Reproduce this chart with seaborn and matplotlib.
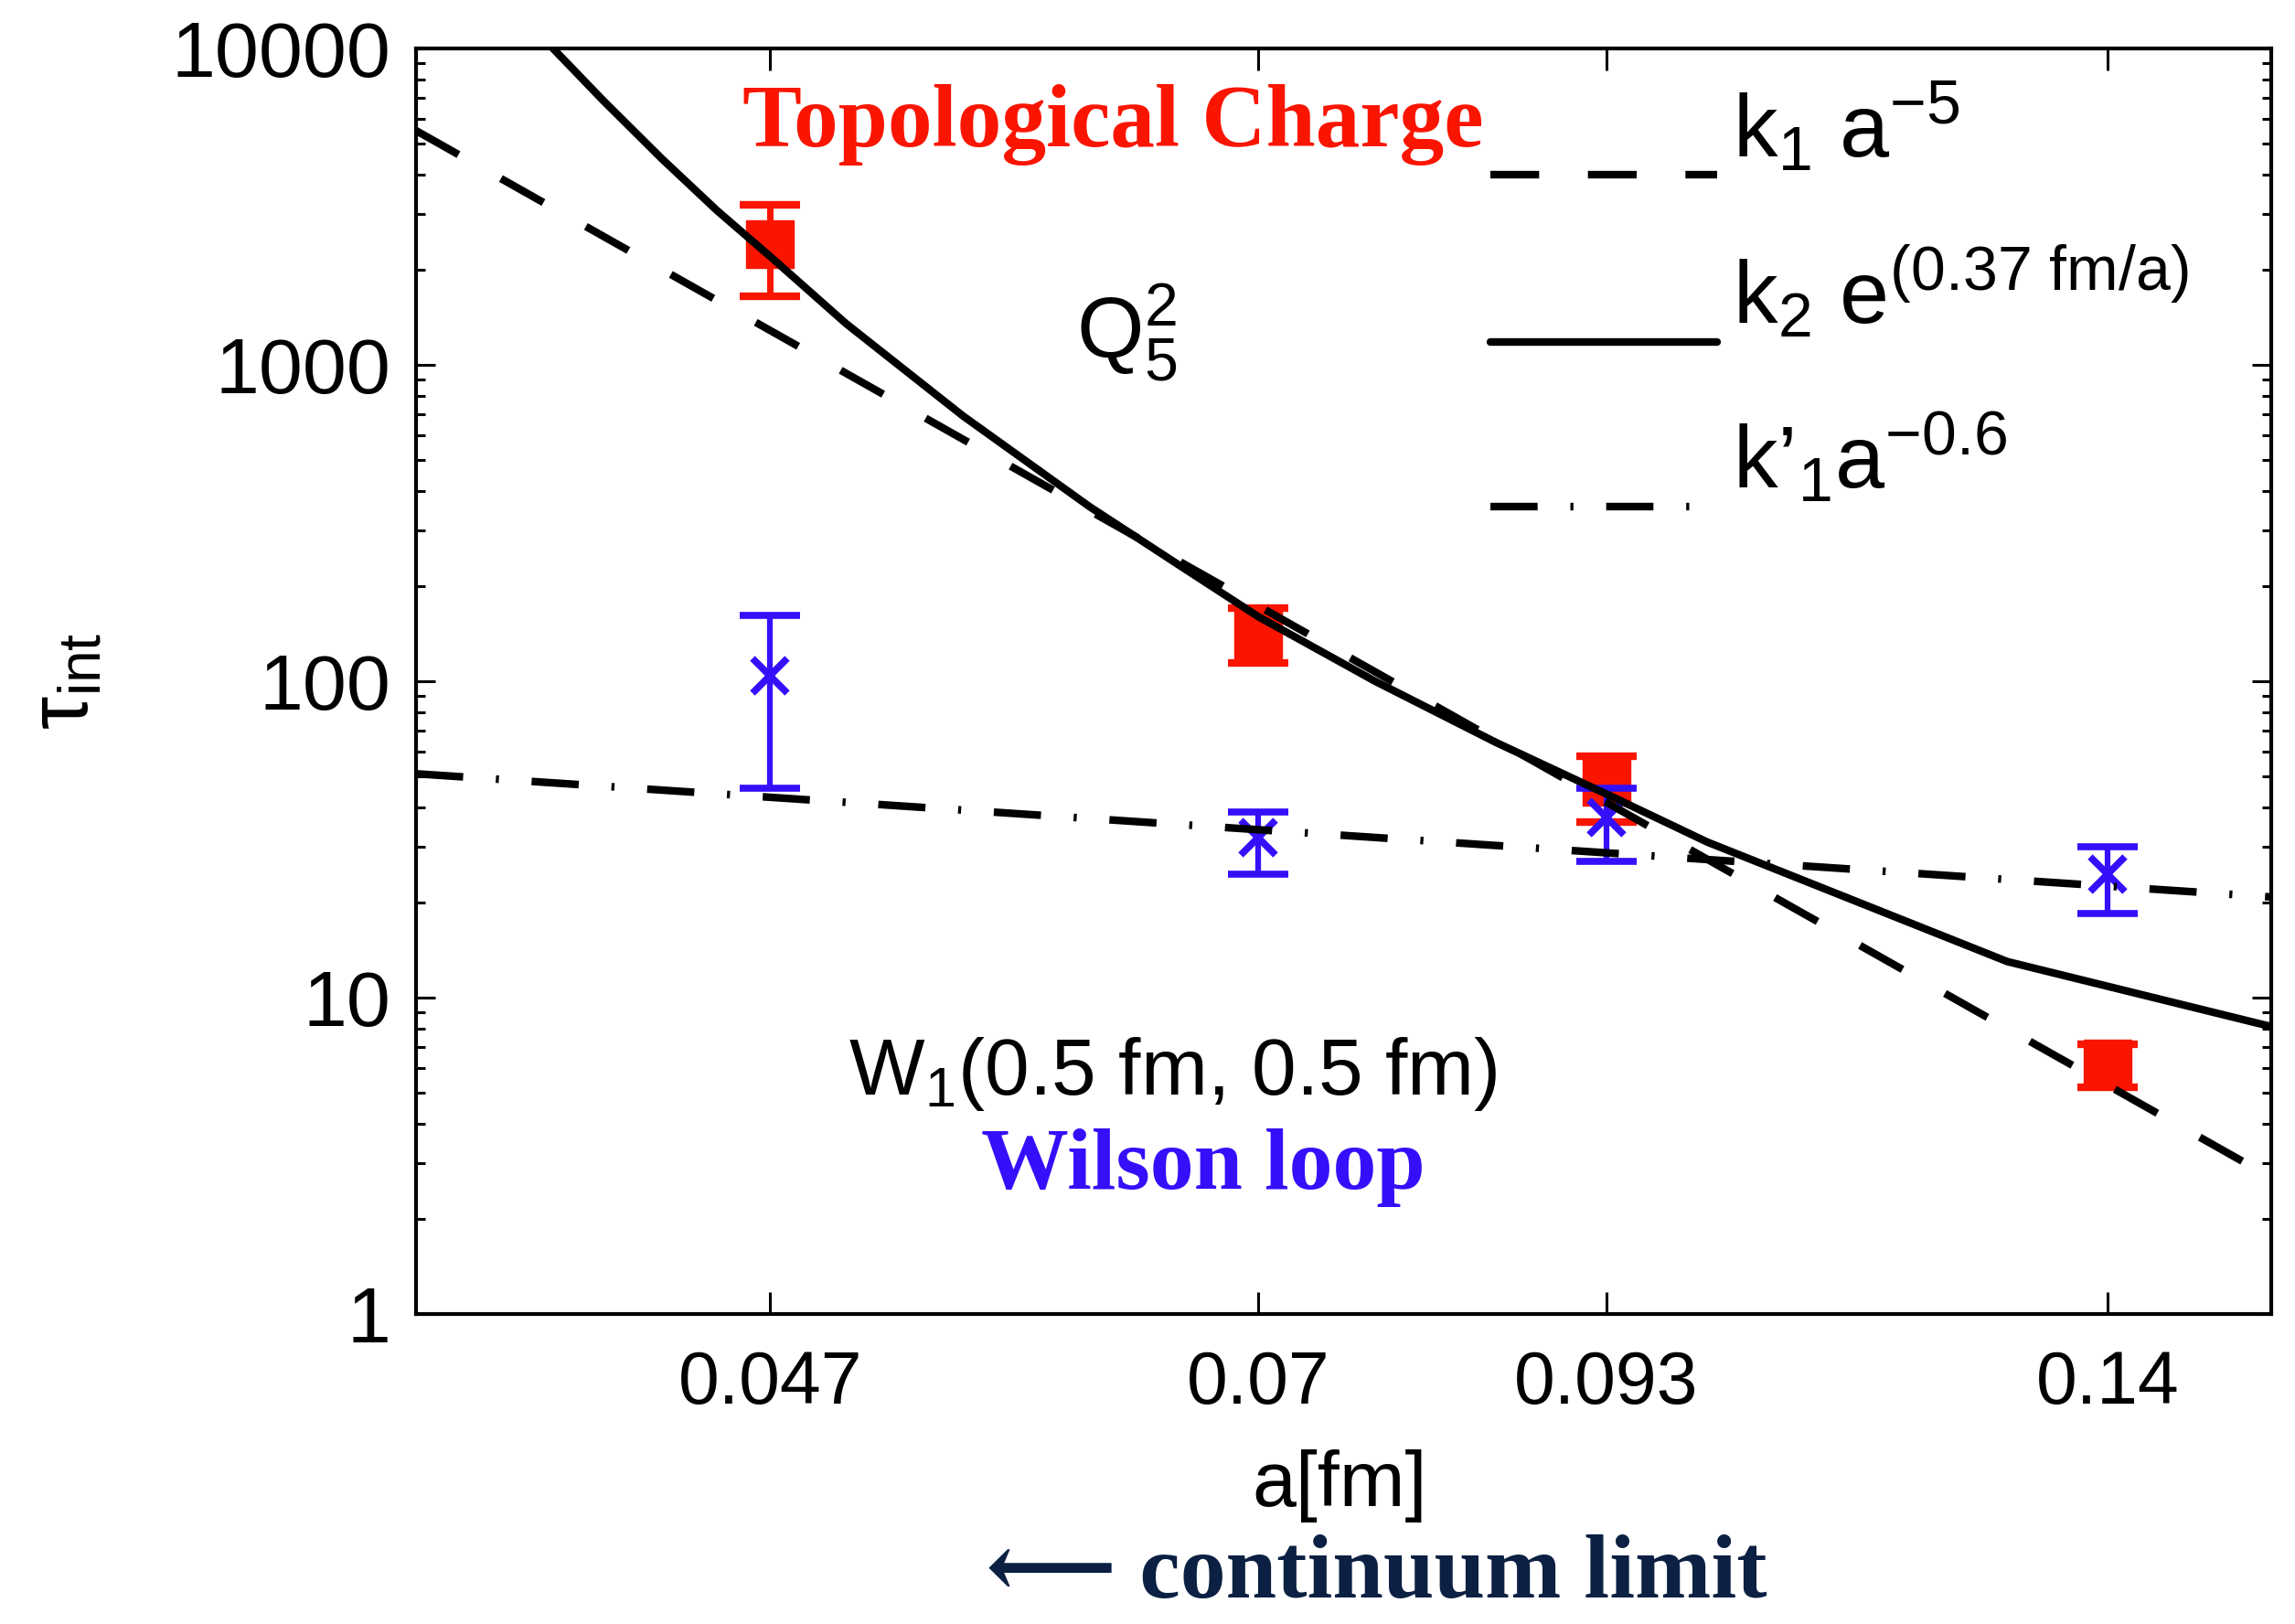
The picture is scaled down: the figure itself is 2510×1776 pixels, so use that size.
import numpy as np
import pandas as pd
import matplotlib
matplotlib.use("Agg")
import matplotlib.pyplot as plt
import seaborn as sns
from matplotlib import font_manager
from matplotlib.ticker import FixedLocator, FixedFormatter, NullLocator, LogLocator, NullFormatter

# ---------------- data ----------------
a_points = [0.047, 0.07, 0.093, 0.14]

tau_Q = [2400, 140, 48, 6.2]          # topological charge Q_5^2
tau_Q_lo = [1650, 114, 36, 5.2]
tau_Q_hi = [3200, 170, 58, 7.1]

tau_W = [104, 32, 37, 24.5]           # Wilson loop W_1(0.5 fm, 0.5 fm)
tau_W_lo = [46, 24.5, 27, 18.5]
tau_W_hi = [162, 38.5, 46, 30]

fit_pow5_a = [0.0352, 0.16]           # k1 a^-5
fit_pow5_tau = [5500, 2.7]

fit_exp_a = [0.0390, 0.041, 0.043, 0.045, 0.047, 0.050, 0.055, 0.061, 0.066,
             0.070, 0.077, 0.085, 0.093, 0.101, 0.129, 0.160]   # k2 e^(0.37 fm/a)
fit_exp_tau = [10900, 6860, 4500, 3075, 2200, 1350, 690, 356, 225,
               160, 100, 64, 44, 31, 13, 8.1]

fit_pow06_a = [0.0352, 0.16]          # k'1 a^-0.6
fit_pow06_tau = [51, 20.8]

x_tick_vals = [0.047, 0.07, 0.093, 0.14]
x_tick_labels = ["0.047", "0.07", "0.093", "0.14"]
y_tick_vals = [1, 10, 100, 1000, 10000]
y_tick_labels = ["1", "10", "100", "1000", "10000"]

legend_labels = [r"$\mathregular{k_1\ a^{-5}}$",
                 r"$\mathregular{k_2\ e^{(0.37\ fm/a)}}$",
                 r"$\mathregular{k’_1a^{-0.6}}$"]

# ---------------- style ----------------
sns.set_theme(style="ticks")
names = {f.name for f in font_manager.fontManager.ttflist}
SANS = "Liberation Sans" if "Liberation Sans" in names else "DejaVu Sans"
SERIF = "Liberation Serif" if "Liberation Serif" in names else "DejaVu Serif"
plt.rcParams["font.family"] = [SANS, "DejaVu Sans"]
plt.rcParams["mathtext.fontset"] = "custom"
plt.rcParams["mathtext.rm"] = SANS
plt.rcParams["mathtext.it"] = SANS + ":italic"
plt.rcParams["mathtext.bf"] = SANS + ":bold"
plt.rcParams["axes.unicode_minus"] = True
for k in ["text.color", "axes.labelcolor", "xtick.color", "ytick.color", "axes.edgecolor"]:
    plt.rcParams[k] = "black"

RED = "#FA1500"
BLUE = "#3410FA"
NAVY = "#0B2042"

W, H = 2510, 1776
fig = plt.figure(figsize=(W / 100, H / 100), dpi=100)
ax = fig.add_axes([455 / W, 1 - 1437 / H, (2484 - 455) / W, (1437 - 53) / H])
ax.set_facecolor("white")
ax.set_xscale("log")
ax.set_yscale("log")

# data points with error bars
q = np.array(tau_Q)
ax.errorbar(a_points, tau_Q, yerr=[q - np.array(tau_Q_lo), np.array(tau_Q_hi) - q],
            fmt="s", color=RED, ms=38, capsize=24, capthick=6, elinewidth=5, zorder=2)
w = np.array(tau_W)
ax.errorbar(a_points, tau_W, yerr=[w - np.array(tau_W_lo), np.array(tau_W_hi) - w],
            fmt="x", color=BLUE, ms=28, mew=5.5, capsize=24, capthick=5,
            elinewidth=4.5, zorder=3)

# fit curves
LW = 6
df1 = pd.DataFrame({"a": fit_pow5_a, "tau": fit_pow5_tau})
sns.lineplot(data=df1, x="a", y="tau", ax=ax, color="black", linewidth=LW,
             linestyle=(0, (6.4, 6.4)), estimator=None, sort=False, zorder=4)
l_dash = ax.lines[-1]
df2 = pd.DataFrame({"a": fit_exp_a, "tau": fit_exp_tau})
sns.lineplot(data=df2, x="a", y="tau", ax=ax, color="black", linewidth=LW,
             linestyle="-", estimator=None, sort=False, zorder=4)
l_solid = ax.lines[-1]
df3 = pd.DataFrame({"a": fit_pow06_a, "tau": fit_pow06_tau})
sns.lineplot(data=df3, x="a", y="tau", ax=ax, color="black", linewidth=LW,
             linestyle=(0, (6.2, 4.3, 0.4, 4.3)), estimator=None, sort=False, zorder=4)
l_dd = ax.lines[-1]
for ln in (l_dash, l_solid, l_dd):
    ln.set_linewidth(LW)

ax.set_xlim(0.0352, 0.16)
ax.set_ylim(1, 10000)

# ticks
ax.xaxis.set_major_locator(FixedLocator(x_tick_vals))
ax.xaxis.set_major_formatter(FixedFormatter(x_tick_labels))
ax.xaxis.set_minor_locator(NullLocator())
ax.yaxis.set_major_locator(FixedLocator(y_tick_vals))
ax.yaxis.set_major_formatter(FixedFormatter(y_tick_labels))
ax.yaxis.set_minor_locator(LogLocator(base=10, subs=np.arange(2, 10)))
ax.yaxis.set_minor_formatter(NullFormatter())
ax.tick_params(which="both", direction="in", top=True, right=True, width=2.2, color="black")
ax.tick_params(axis="x", which="major", length=17, pad=28, labelsize=58)
ax.tick_params(axis="y", which="major", length=15, pad=20, labelsize=62)
ax.tick_params(axis="y", which="minor", length=7.5)
for s in ax.spines.values():
    s.set_linewidth(3)
    s.set_color("black")

ax.set_xlabel("a[fm]", fontsize=62, va="center")
ax.xaxis.set_label_coords(0.498, -0.1358)
ax.set_ylabel(r"$\mathregular{τ_{int}}$", fontsize=66, ha="center", va="center")
ax.yaxis.set_label_coords(-0.1888, 0.5)

# legend (handles sit a little below the text baseline, as in the original)
LEG_FS = 70
leg = ax.legend(handles=[l_dash, l_solid, l_dd], labels=legend_labels, loc="upper left",
                bbox_to_anchor=(0.579, 0.974), frameon=False,
                prop={"family": SANS, "size": LEG_FS}, handlelength=2.55, handletextpad=0.18,
                labelspacing=0.79, borderaxespad=0, borderpad=0)
for legline in leg.get_lines():
    legline.set_ydata(np.asarray(legline.get_ydata()) - 0.55 * LEG_FS)

# annotations
def fx(x):
    return x / W

def fy(y):
    return 1 - y / H

fig.text(fx(1217), fy(160), "Topological Charge", color=RED, family=SERIF,
         weight="bold", fontsize=70, ha="center", va="baseline")
fig.text(fx(1177), fy(392), r"$\mathregular{Q_5^2}$", color="black", fontsize=68,
         ha="left", va="baseline")
fig.text(fx(928), fy(1197), r"$\mathregular{W_1}$(0.5 fm, 0.5 fm)", color="black",
         fontsize=63, ha="left", va="baseline")
fig.text(fx(1316), fy(1300), "Wilson loop", color=BLUE, family=SERIF,
         weight="bold", fontsize=69, ha="center", va="baseline")
fig.text(fx(1505), fy(1768), "⟵ continuum limit", color=NAVY,
         family=[SERIF, "DejaVu Serif", "DejaVu Sans"],
         weight="bold", fontsize=72, ha="center", va="bottom")

fig.savefig("out.png", dpi=100, facecolor="white")
